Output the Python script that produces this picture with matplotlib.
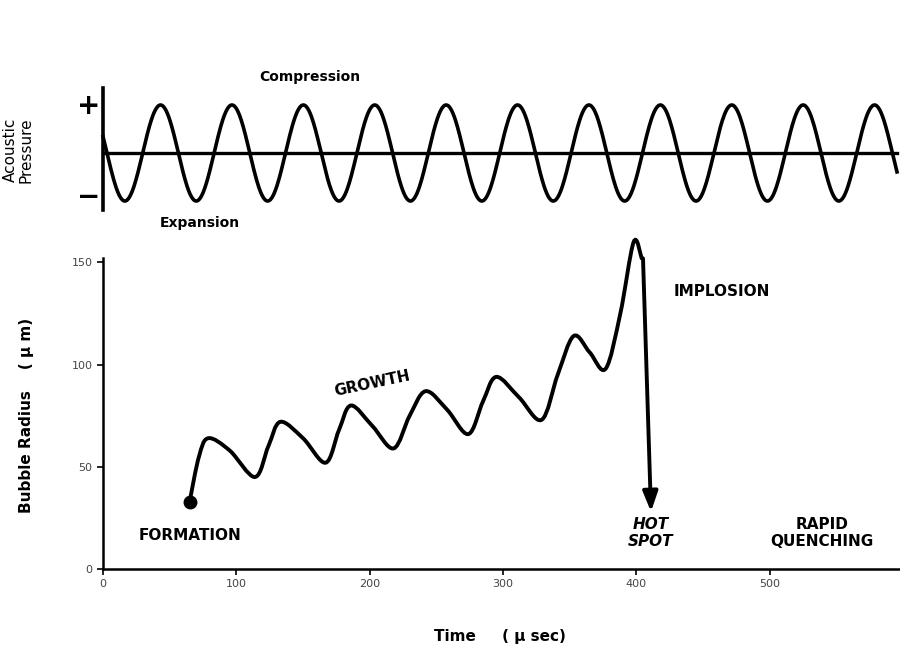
import numpy as np
import matplotlib
matplotlib.use("Agg")
import matplotlib.pyplot as plt
from matplotlib.path import Path
from matplotlib.patches import PathPatch

# bubble radius key points (time in usec, radius in um)
bubble_t = [65, 72, 79, 95, 114, 124, 133, 150, 167, 177, 186, 202, 218, 230, 242, 258, 274, 285, 295, 312, 329, 341, 353, 365, 377, 388, 398, 404]
bubble_r = [33, 55, 64, 58, 45, 60, 72, 64, 52, 68, 80, 70, 59, 75, 87, 78, 66, 82, 94, 84, 73, 95, 114, 106, 98, 125, 160, 152]
arrow_start = (405, 152)
arrow_end = (411, 28)

x_ticks = [0, 100, 200, 300, 400, 500]
y_ticks = [0, 50, 100, 150]

# acoustic wave (pixel-space schematic)
wave_period_px = 71.4
wave_amp_px = 48
wave_x0, wave_x1, wave_y0 = 103, 897, 153

fig = plt.figure(figsize=(9, 6.54), dpi=100)

ax = fig.add_axes([0.1144, 0.130, 0.886, 0.475])
ax.set_xlim(0, 598)
ax.set_ylim(0, 152)
for s in ["top", "right"]:
    ax.spines[s].set_visible(False)
for s in ["left", "bottom"]:
    ax.spines[s].set_linewidth(1.8)
ax.set_xticks(x_ticks)
ax.set_yticks(y_ticks)
ax.tick_params(direction="out", length=4, width=1.2, labelsize=8, colors="black", labelcolor="#444444")

# smooth curve through key points (Catmull-Rom -> cubic bezier)
pts = np.column_stack([bubble_t, bubble_r]).astype(float)
verts = [pts[0]]
codes = [Path.MOVETO]
for i in range(len(pts) - 1):
    p0 = pts[i - 1] if i > 0 else pts[i]
    p1, p2 = pts[i], pts[i + 1]
    p3 = pts[i + 2] if i + 2 < len(pts) else pts[i + 1]
    verts += [p1 + (p2 - p0) / 6, p2 - (p3 - p1) / 6, p2]
    codes += [Path.CURVE4] * 3
ax.add_patch(PathPatch(Path(verts, codes), fill=False, lw=2.8, color="black",
                       capstyle="round", clip_on=False))
ax.plot(bubble_t[0], bubble_r[0], "o", color="black", ms=9, clip_on=False)
ax.annotate("", xy=arrow_end, xytext=arrow_start, annotation_clip=False,
            arrowprops=dict(arrowstyle="-|>,head_length=1.2,head_width=0.45", lw=2.8,
                            color="black", shrinkA=0, shrinkB=0))

# overlay in pixel coordinates
ov = fig.add_axes([0, 0, 1, 1])
ov.set_xlim(0, 900)
ov.set_ylim(654, 0)
ov.axis("off")
wx = np.linspace(wave_x0, wave_x1, 1200)
ov.plot(wx, wave_y0 + wave_amp_px * np.sin(2 * np.pi * (wx - wave_x0 - 4) / wave_period_px), color="black", lw=2.6)
ov.plot([wave_x0, wave_x1], [wave_y0, wave_y0], color="black", lw=2.4)
ov.plot([wave_x0, wave_x0], [88, 210], color="black", lw=2.6)
ov.text(89, 106, "+", fontsize=20, fontweight="bold", ha="center", va="center")
ov.text(89, 197, "\u2212", fontsize=20, fontweight="bold", ha="center", va="center")
ov.text(18, 150, "Acoustic\nPressure", rotation=90, fontsize=11, ha="center", va="center", linespacing=1.0)
ov.text(310, 77, "Compression", fontsize=10, fontweight="bold", ha="center", va="center")
ov.text(200, 223, "Expansion", fontsize=10, fontweight="bold", ha="center", va="center")

ov.text(27, 415, "Bubble Radius    ( \u00b5 m)", rotation=90, fontsize=11, fontweight="bold", ha="center", va="center")
ov.text(500, 637, "Time     ( \u00b5 sec)", fontsize=11, fontweight="bold", ha="center", va="center")
ov.text(190, 535, "FORMATION", fontsize=11, fontweight="bold", ha="center", va="center")
ov.text(372, 384, "GROWTH", fontsize=11, fontweight="bold", ha="center", va="center", rotation=12)
ov.text(722, 292, "IMPLOSION", fontsize=11, fontweight="bold", ha="center", va="center")
ov.text(651, 533, "HOT\nSPOT", fontsize=11, fontweight="bold", style="italic", ha="center", va="center", linespacing=1.1)
ov.text(822, 533, "RAPID\nQUENCHING", fontsize=11, fontweight="bold", ha="center", va="center", linespacing=1.1)

fig.savefig("out.png", dpi=100)
